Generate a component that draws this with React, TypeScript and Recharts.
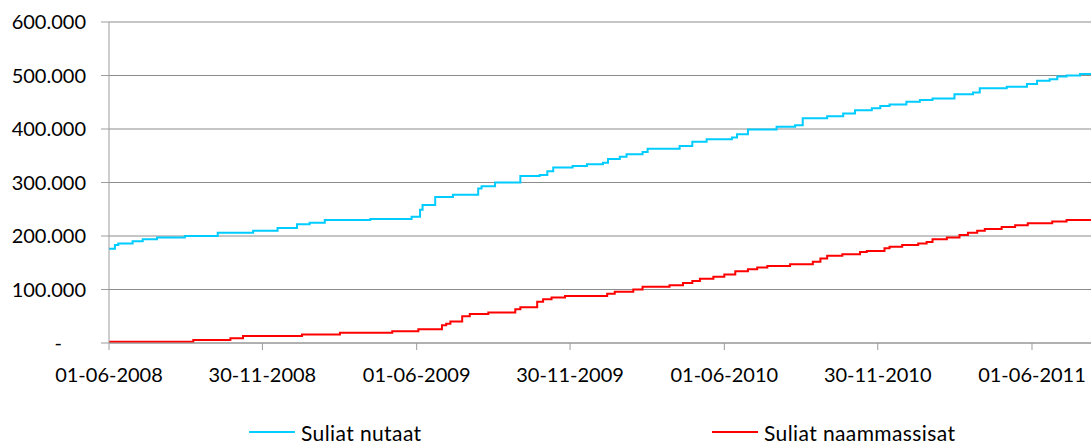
import React from 'react';
import { LineChart, Line, XAxis, YAxis, CartesianGrid, Legend } from 'recharts';

// day 0 = 01-06-2008
const nutaatDays = [
  0, 7, 11, 28, 40, 57, 90, 129, 171, 200, 223, 238, 256, 310, 359, 369, 372, 387, 408, 438,
  442, 458, 488, 511, 520, 527, 550, 567, 586, 592, 606, 614, 633, 639, 677, 692, 709, 739, 745, 758,
  792, 814, 823, 852, 871, 885, 905, 915, 926, 946, 962, 977, 1003, 1025, 1033, 1065, 1089, 1101, 1116, 1125,
  1136, 1152, 1165,
];
const nutaatValues = [
  176000, 183000, 186000, 190000, 194000, 197000, 200000, 206000, 210000, 215000, 222000, 225000, 230000, 232000, 236000, 249000, 258000, 273000, 277000, 289000,
  293000, 300000, 312000, 314000, 321000, 328000, 331000, 334000, 337000, 344000, 348000, 353000, 357000, 363000, 368000, 376000, 381000, 384000, 390000, 399000,
  404000, 407000, 420000, 424000, 429000, 435000, 439000, 443000, 446000, 451000, 454000, 457000, 465000, 468000, 476000, 479000, 484000, 490000, 493000, 498000,
  500000, 503000, 503000,
];

const naammassisatDays = [
  0, 100, 144, 159, 229, 274, 336, 367, 395, 400, 405, 419, 428, 450, 482, 488, 508, 515, 525, 541,
  591, 600, 622, 633, 665, 681, 692, 701, 717, 730, 743, 758, 769, 781, 808, 835, 844, 852, 870, 891,
  899, 920, 926, 941, 960, 970, 977, 994, 1009, 1019, 1030, 1039, 1059, 1075, 1090, 1119, 1136, 1165,
];
const naammassisatValues = [
  2500, 5600, 8700, 13000, 16000, 19000, 22000, 25600, 33000, 36000, 40000, 50000, 54000, 57000, 63000, 67000, 77000, 82000, 85000, 88000,
  92000, 96000, 100000, 105000, 108000, 112000, 116000, 120000, 124000, 128000, 134000, 138000, 141000, 144000, 147000, 152000, 158000, 163000, 166000, 170000,
  172000, 177000, 180000, 183000, 186000, 189000, 194000, 197000, 202000, 206000, 210000, 213000, 217000, 220000, 224000, 227000, 230000, 230000,
];

const xTickDays = [0, 182, 365, 547, 730, 912, 1095];
const xTickLabels = ['01-06-2008', '30-11-2008', '01-06-2009', '30-11-2009', '01-06-2010', '30-11-2010', '01-06-2011'];
const yTicks = [0, 100000, 200000, 300000, 400000, 500000, 600000];

const seriesNames = ['Suliat nutaat', 'Suliat naammassisat'];
const seriesColors = ['#00CCFF', '#FF0000'];

const nutaatData = nutaatDays.map((d, i) => ({ day: d, value: nutaatValues[i] }));
const naammassisatData = naammassisatDays.map((d, i) => ({ day: d, value: naammassisatValues[i] }));

const FONT = 'Lato, "Open Sans", sans-serif';

const formatThousands = (v: number) => v.toLocaleString('de-DE');

const YTick = (props: any) => {
  const { x, y, payload } = props;
  const isZero = payload.value === 0;
  return (
    <text
      x={isZero ? x - 24 : x}
      y={y}
      dy="0.35em"
      textAnchor="end"
      fill="#000"
      fontSize={20}
      fontFamily={FONT}
    >
      {isZero ? '-' : formatThousands(payload.value)}
    </text>
  );
};

const LegendContent = () => (
  <div
    style={{
      display: 'flex',
      alignItems: 'center',
      height: 26,
      paddingTop: 3,
      fontFamily: FONT,
      fontSize: 21,
      letterSpacing: 0.4,
      color: '#000',
    }}
  >
    {seriesNames.map((name, i) => (
      <div
        key={name}
        style={{
          display: 'flex',
          alignItems: 'center',
          marginLeft: i === 0 ? 249 : 0,
          width: i === 0 ? 463 : 'auto',
        }}
      >
        <span style={{ display: 'inline-block', width: 46, height: 2, background: seriesColors[i], marginRight: 6 }} />
        <span>{name}</span>
      </div>
    ))}
  </div>
);

export default function App() {
  return (
    <div style={{ position: 'absolute', left: 0, top: 0, background: '#fff' }}>
      <LineChart width={1091} height={445} margin={{ top: 22, right: 0, left: 0, bottom: 0 }}>
        <CartesianGrid vertical={false} stroke="#8c8c8c" />
        <XAxis
          type="number"
          dataKey="day"
          domain={[0, 1165]}
          ticks={xTickDays}
          tickFormatter={(v: number) => xTickLabels[xTickDays.indexOf(v)]}
          allowDataOverflow
          stroke="#9c9c9c"
          tickSize={7}
          tickMargin={18}
          height={73}
          tick={{ fill: '#000', fontSize: 20, fontFamily: FONT }}
          interval={0}
        />
        <YAxis
          domain={[0, 600000]}
          ticks={yTicks}
          width={109}
          stroke="#9c9c9c"
          tickSize={8}
          tickMargin={15}
          tick={<YTick />}
          interval={0}
        />
        <Legend verticalAlign="bottom" content={<LegendContent />} wrapperStyle={{ left: 0, width: 1091 }} />
        <Line
          data={nutaatData}
          dataKey="value"
          name={seriesNames[0]}
          type="stepAfter"
          stroke={seriesColors[0]}
          strokeWidth={2}
          dot={false}
          isAnimationActive={false}
        />
        <Line
          data={naammassisatData}
          dataKey="value"
          name={seriesNames[1]}
          type="stepAfter"
          stroke={seriesColors[1]}
          strokeWidth={2}
          dot={false}
          isAnimationActive={false}
        />
      </LineChart>
    </div>
  );
}
